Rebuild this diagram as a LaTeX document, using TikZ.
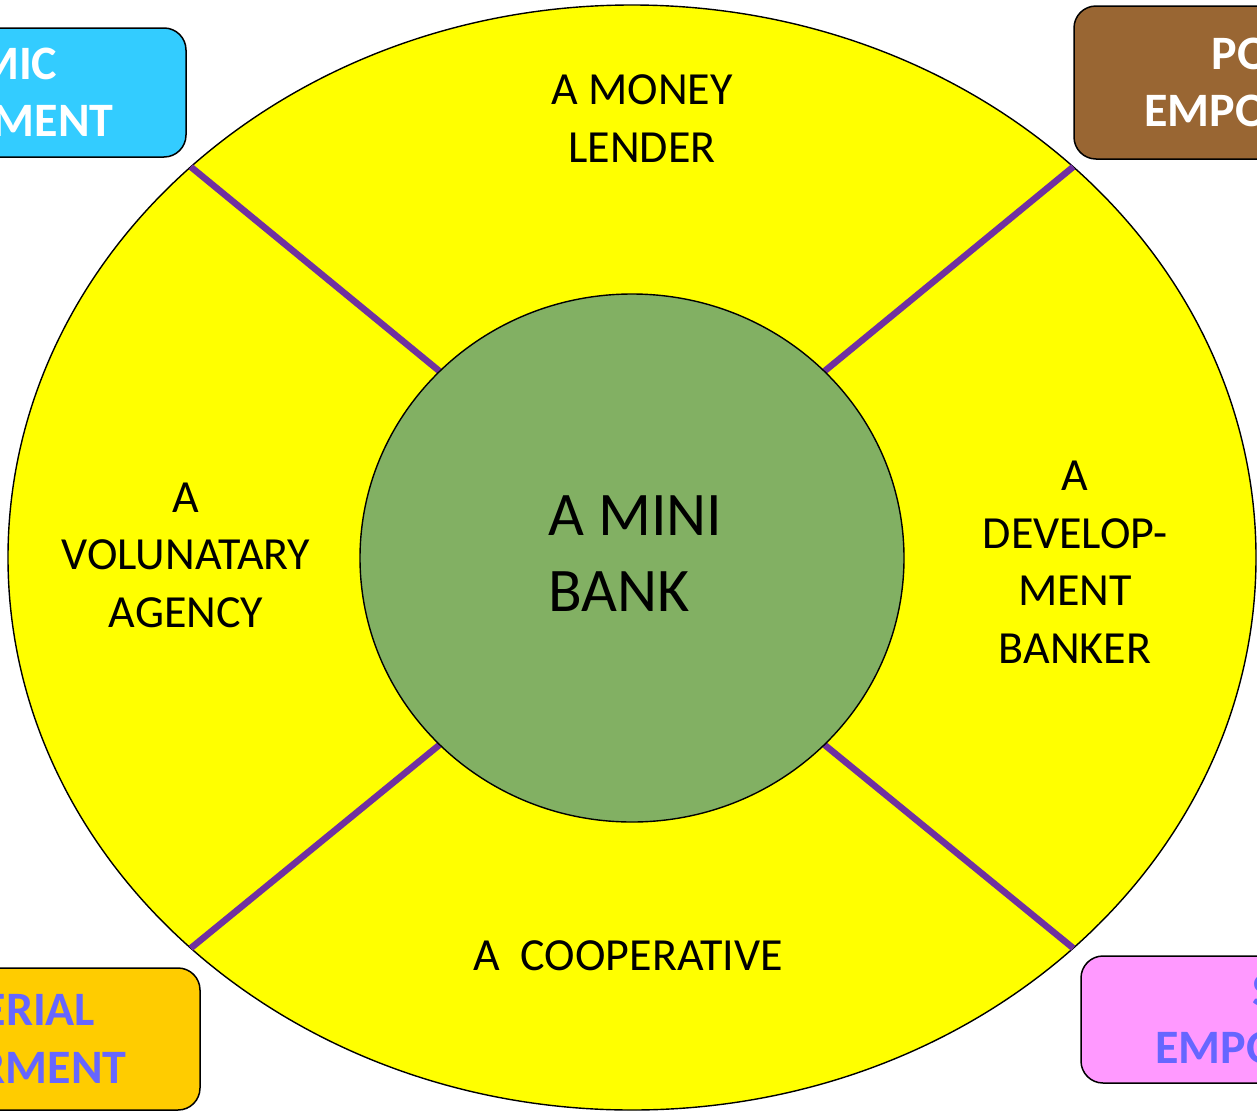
\documentclass[tikz,border=0pt]{standalone}
\usepackage{fontspec}
\setmainfont{Carlito}
\usetikzlibrary{shapes.geometric}
\definecolor{ringyellow}{HTML}{FFFF00}
\definecolor{hubgreen}{HTML}{82B063}
\definecolor{spokepurple}{HTML}{7030A0}
\definecolor{econcyan}{HTML}{33CCFF}
\definecolor{polbrown}{HTML}{996633}
\definecolor{mangold}{HTML}{FFCC00}
\definecolor{socpink}{HTML}{FF99FF}
\definecolor{labelblue}{HTML}{6666FF}
\pgfdeclarelayer{ringlayer}
\pgfdeclarelayer{spokelayer}
\pgfsetlayers{ringlayer,spokelayer,main}

\begin{document}
\begin{tikzpicture}[x=1pt,y=-1pt,
  ring/.style={ellipse, draw=black, line width=1.4pt, fill=ringyellow,
    inner sep=0pt, outer sep=0pt, minimum width=1248pt, minimum height=1105pt},
  hub/.style={ellipse, draw=black, line width=1.4pt, fill=hubgreen,
    inner sep=0pt, outer sep=0pt, minimum width=544pt, minimum height=528pt},
  spoke/.style={draw=spokepurple, line width=6.5pt},
  role/.style={font=\fontsize{46}{57.5}\selectfont, align=center, anchor=base, inner sep=0pt},
  tag/.style={rectangle, rounded corners=22pt, draw=black, line width=1.5pt,
    align=center, inner sep=0pt,
    font=\bfseries\fontsize{48}{57.5}\selectfont},
]
\useasboundingbox (0,0) rectangle (1257,1111);

% outer ring and the centre hub
\begin{pgfonlayer}{ringlayer}
  \node[ring] (ring) at (632,557.5) {};
\end{pgfonlayer}
\node[hub] (hub) at (632,558) {};

% four dividing spokes between ring and hub
\begin{pgfonlayer}{spokelayer}
  \draw[spoke] (ring.north west) -- (hub.north west);
  \draw[spoke] (ring.north east) -- (hub.north east);
  \draw[spoke] (ring.south west) -- (hub.south west);
  \draw[spoke] (ring.south east) -- (hub.south east);
\end{pgfonlayer}

% labels of the four roles (anchored at the baseline of the last line)
\node[role] (lender) at (642,162) {A MONEY\\LENDER};
\node[role] (agency) at (186,627) {A\\VOLUNATARY\\AGENCY};
\node[role] (devbank) at (1075,663) {A\\DEVELOP-\\MENT\\BANKER};
\node[role] (coop) at (628,970) {A\ \ COOPERATIVE};
\node[font=\fontsize{62}{76}\selectfont, align=left, anchor=base west, inner sep=0pt]
  (minibank) at (548,611) {A MINI\\BANK};

% empowerment tags in the corners
\node[tag, fill=econcyan, text=white, minimum width=482pt, minimum height=129pt]
  (econ) at (-55,92.5) {ECONOMIC\\EMPOWERMENT};
\node[tag, fill=polbrown, text=white, minimum width=478pt, minimum height=153pt]
  (pol) at (1313,82.5) {POLITICAL\\EMPOWERMENT};
\node[tag, fill=mangold, text=labelblue, minimum width=484pt, minimum height=142pt]
  (man) at (-42,1039) {MANAGERIAL\\EMPOWERMENT};
\node[tag, fill=socpink, text=labelblue, minimum width=486pt, minimum height=127pt]
  (soc) at (1324,1019.5) {SOCIAL\\EMPOWERMENT};
\end{tikzpicture}
\end{document}
